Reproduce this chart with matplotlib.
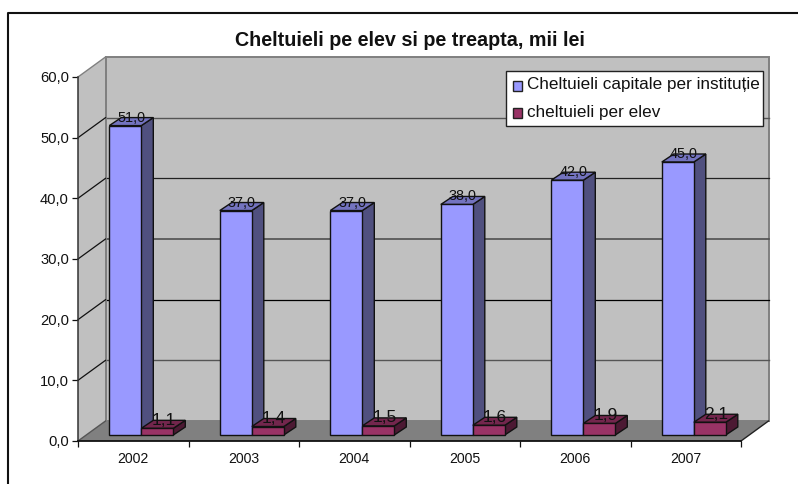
import matplotlib
matplotlib.use("Agg")
import matplotlib.pyplot as plt
from matplotlib.patches import Polygon, Rectangle
from matplotlib.lines import Line2D

plt.rcParams['font.family'] = ['Liberation Sans', 'DejaVu Sans']

years = ['2002', '2003', '2004', '2005', '2006', '2007']
capitale = [51.0, 37.0, 37.0, 38.0, 42.0, 45.0]
per_elev = [1.1, 1.4, 1.5, 1.6, 1.9, 2.1]
yticks = [0, 10, 20, 30, 40, 50, 60]
title = 'Cheltuieli pe elev si pe treapta, mii lei'
names = ['Cheltuieli capitale per instituție', 'cheltuieli per elev']

W, H = 798, 484
fig = plt.figure(figsize=(W / 100, H / 100), dpi=100, facecolor='white')
L, R, T, B = 78.0, 741.0, 77.0, 441.0
ax = fig.add_axes([L / W, 1 - B / H, (R - L) / W, (B - T) / H])
ax.set_xlim(0, len(years))
ax.set_ylim(0, 60)
ax.patch.set_visible(False)
for s in ax.spines.values():
    s.set_visible(False)

# pixel -> data unit scales for the oblique projection
ux = len(years) / (R - L)
uy = 60 / (B - T)
wall_dx, wall_dy = 27.5 * ux, 20 * uy
bar_dx, bar_dy = 12 * ux, 8 * uy
off_x, off_y = 8 * ux, 6 * uy
bar_w = 32 * ux
start = (109.3 - L) * ux - off_x  # left of first bar relative to category 0 front

def poly(pts, fc, ec='none', lw=0, z=1):
    ax.add_patch(Polygon(pts, closed=True, facecolor=fc, edgecolor=ec, linewidth=lw,
                         clip_on=False, zorder=z, joinstyle='miter'))

n = len(years)
# walls and floor
poly([(0, 0), (wall_dx, wall_dy), (wall_dx, 60 + wall_dy), (0, 60)], '#C0C0C0', z=1)
poly([(wall_dx, wall_dy), (n + wall_dx, wall_dy), (n + wall_dx, 60 + wall_dy), (wall_dx, 60 + wall_dy)],
     '#C0C0C0', '#808080', 1.4, z=1)
poly([(0, 0), (n, 0), (n + wall_dx, wall_dy), (wall_dx, wall_dy)], '#808080', z=2)
ax.plot([n, n + wall_dx], [0, wall_dy], color='#222222', lw=1, clip_on=False, zorder=2)

# gridlines: side wall lines are black, back wall lines vary with resampling in the source
back_grid = {10: ('#555555', 1.0), 20: ('#000000', 0.9), 30: ('#505050', 1.2),
             40: ('#222222', 0.9), 50: ('#555555', 1.0)}
for v in yticks[1:-1]:
    c, lw = back_grid[v]
    ax.plot([wall_dx, n + wall_dx], [v + wall_dy, v + wall_dy], color=c, lw=lw,
            clip_on=False, zorder=3)
ax.plot([wall_dx, wall_dx], [wall_dy, 60 + wall_dy], color='#808080', lw=1.4, clip_on=False, zorder=3)
for v in yticks[1:-1]:
    ax.plot([0, wall_dx], [v, v + wall_dy], color='#111111', lw=0.9, clip_on=False, zorder=3)
ax.plot([0, wall_dx], [60, 60 + wall_dy], color='#808080', lw=1, clip_on=False, zorder=3)
ax.plot([0, wall_dx], [0, wall_dy], color='#555555', lw=1, clip_on=False, zorder=3)

# axes lines
ax.plot([0, 0], [0, 60], color='#333333', lw=1.1, clip_on=False, zorder=4)
ax.plot([0, n], [0, 0], color='#111111', lw=1.3, clip_on=False, zorder=4)

styles = [('#9999FF', '#7373BF', '#50507F'), ('#993366', '#73264D', '#4C1933')]
z = 5
for i in range(n):
    for j, vals in enumerate((capitale, per_elev)):
        front, top, side = styles[j]
        v = vals[i]
        x0 = i + start + off_x + j * bar_w
        y0 = off_y
        x1 = x0 + bar_w
        y1 = v + off_y
        ek = dict(ec='#111111', lw=1.0, z=z)
        poly([(x1, y0), (x1 + bar_dx, y0 + bar_dy), (x1 + bar_dx, y1 + bar_dy), (x1, y1)], side, **ek)
        poly([(x0, y1), (x1, y1), (x1 + bar_dx, y1 + bar_dy), (x0 + bar_dx, y1 + bar_dy)], top, **ek)
        poly([(x0, y0), (x1, y0), (x1, y1), (x0, y1)], front, **ek)
        z += 1

# data labels
for i in range(n):
    for j, vals in enumerate((capitale, per_elev)):
        v = vals[i]
        xc = i + start + off_x + (j + 0.5) * bar_w + bar_dx / 2
        yc = v + off_y + bar_dy
        ax.text(xc, yc, f'{v:.1f}'.replace('.', ','), ha='center', va='center',
                fontsize=10.4 if j == 0 else 12.5, color='#111111', zorder=30, clip_on=False)

# ticks
ax.set_yticks(yticks)
ax.set_yticklabels([f'{v:.1f}'.replace('.', ',') for v in yticks], fontsize=10.6, color='#111111')
ax.set_xticks(range(n + 1))
ax.set_xticklabels([''] * (n + 1))
ax.tick_params(axis='y', length=4.5, width=0.9, pad=2, color='#111111')
ax.tick_params(axis='x', length=4.5, width=0.9, color='#111111')
for i, y in enumerate(years):
    ax.text(i + 0.5, -3.0, y, ha='center', va='center', fontsize=10.2, color='#111111',
            clip_on=False, zorder=30)

# frame, clipped by the image at right and bottom
fig.add_artist(Line2D([8 / W, 8 / W, 1], [0, 1 - 12.5 / H, 1 - 12.5 / H], color='#111111', lw=1.5))

fig.text(410 / W, 1 - 40 / H, title, ha='center', va='center', fontsize=14.2, fontweight='bold',
         color='#111111')

# legend
lx0, lx1, ly0, ly1 = 505.7, 763, 70.5, 125.5
fig.add_artist(Rectangle((lx0 / W, 1 - ly1 / H), (lx1 - lx0) / W, (ly1 - ly0) / H, transform=fig.transFigure,
                         facecolor='white', edgecolor='#222222', lw=1.0, zorder=40))
for k, (nm, yy) in enumerate(zip(names, (86, 113))):
    fig.add_artist(Rectangle((512.5 / W, 1 - (yy + 4.7) / H), 9.5 / W, 9.5 / H, transform=fig.transFigure,
                             facecolor=styles[k][0], edgecolor='#222222', lw=1.0, zorder=41))
    fig.text(527.3 / W, 1 - (yy - 1) / H, nm, ha='left', va='center', fontsize=12.3, color='#111111', zorder=42)

fig.savefig('out.png', dpi=100)
